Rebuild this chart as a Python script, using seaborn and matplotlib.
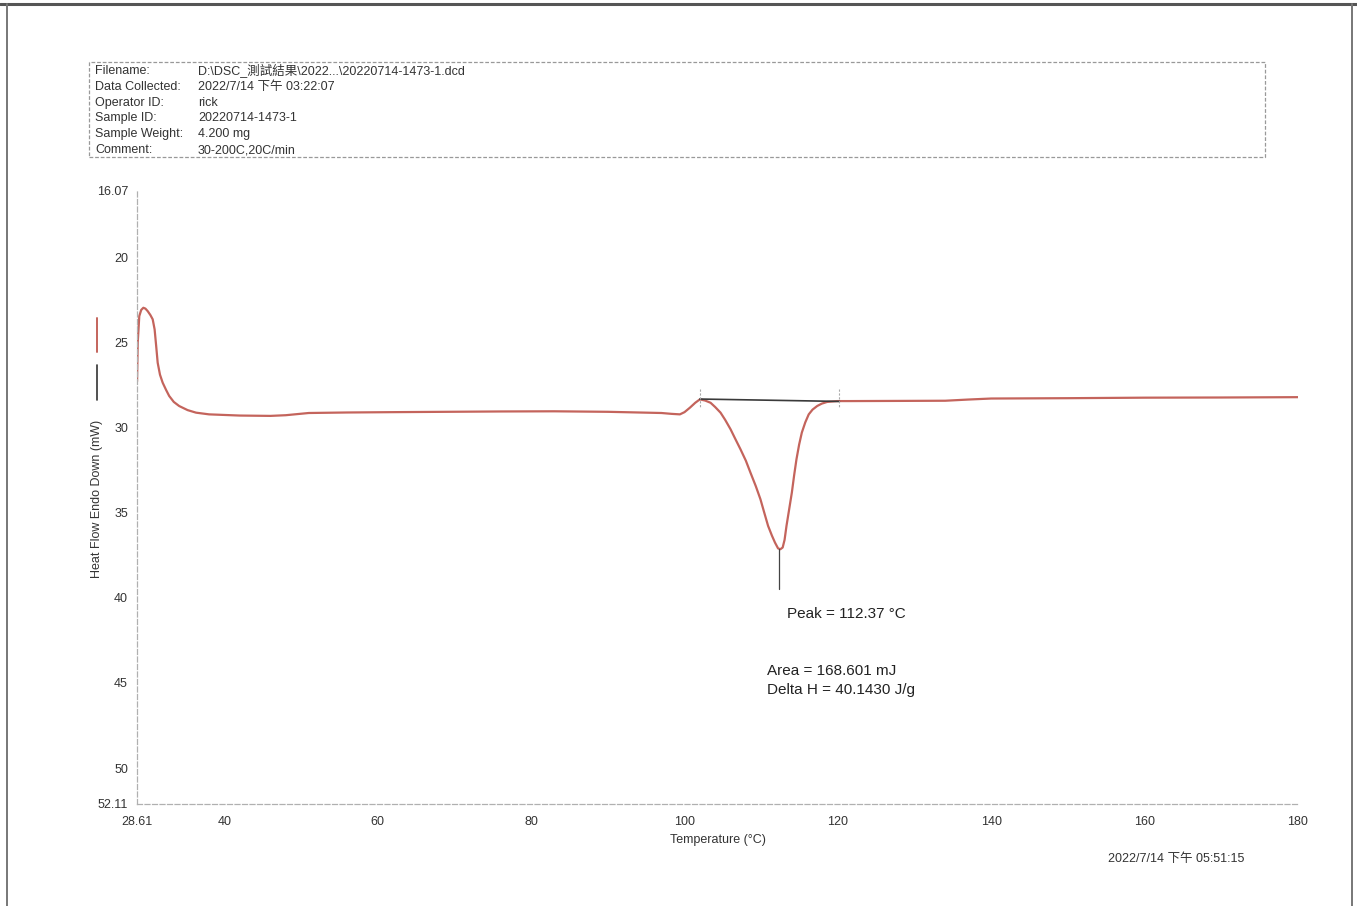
import matplotlib
matplotlib.use("Agg")
import matplotlib.pyplot as plt
import seaborn as sns
import pandas as pd
from matplotlib.lines import Line2D
from matplotlib.patches import Rectangle

# DSC heating curve
temperature = [28.61, 28.7, 28.9, 29.15, 29.43, 29.7, 30.0, 30.35, 30.65, 30.9, 31.1, 31.3,
               31.6, 31.95, 32.4, 32.8, 33.4, 34.1, 35.2, 36.3, 38.0, 42.0, 46.0, 48.0,
               51.0, 56.0, 62.0, 69.0, 76.0, 83.0, 90.0, 94.0, 97.0, 98.3, 99.4, 100.0,
               100.7, 101.4, 102.0, 102.7, 103.4, 104.0, 104.7, 105.3, 106.0, 106.6,
               107.3, 108.0, 108.6, 109.3, 109.9, 110.4, 110.9, 111.4, 111.8, 112.2,
               112.5, 112.8, 113.05, 113.3, 113.65, 114.0, 114.3, 114.6, 114.95, 115.3,
               115.75, 116.2, 116.7, 117.3, 117.9, 118.6, 119.9, 121.6, 128.0, 134.0,
               137.0, 140.0, 150.0, 160.0, 170.0, 180.0]
heat_flow = [27.3, 25.0, 23.46, 23.1, 22.97, 23.02, 23.17, 23.4, 23.65, 24.24, 25.2, 26.2,
             26.9, 27.37, 27.8, 28.15, 28.5, 28.74, 28.98, 29.13, 29.23, 29.3, 29.32, 29.28,
             29.15, 29.12, 29.1, 29.08, 29.06, 29.05, 29.08, 29.12, 29.15, 29.2, 29.23, 29.1,
             28.84, 28.55, 28.35, 28.42, 28.55, 28.8, 29.13, 29.55, 30.1, 30.65,
             31.28, 31.95, 32.65, 33.45, 34.21, 35.0, 35.78, 36.35, 36.76, 37.1,
             37.15, 37.05, 36.6, 35.78, 34.8, 33.82, 32.8, 31.87, 31.0, 30.3,
             29.7, 29.23, 28.95, 28.74, 28.6, 28.5, 28.45, 28.45, 28.44, 28.43,
             28.36, 28.3, 28.28, 28.25, 28.24, 28.22]

baseline_t = [102.0, 120.2]
baseline_hf = [28.33, 28.47]
peak_t = 112.37
peak_hf = 37.15

x_ticks = [28.61, 40, 60, 80, 100, 120, 140, 160, 180]
x_ticklabels = ["28.61", "40", "60", "80", "100", "120", "140", "160", "180"]
y_ticks = [16.07, 20, 25, 30, 35, 40, 45, 50, 52.11]
y_ticklabels = ["16.07", "20", "25", "30", "35", "40", "45", "50", "52.11"]

info_labels = ["Filename:", "Data Collected:", "Operator ID:", "Sample ID:",
               "Sample Weight:", "Comment:"]
info_values = ["D:\\DSC_測試結果\\2022...\\20220714-1473-1.dcd", "2022/7/14 下午 03:22:07",
               "rick", "20220714-1473-1", "4.200 mg", "30-200C,20C/min"]

sns.set_style("white")
plt.rcParams['font.family'] = ['Liberation Sans', 'Noto Sans CJK TC', 'DejaVu Sans']

curve_color = "#c4645c"
text_color = "#333333"

df = pd.DataFrame({"Temperature": temperature, "HeatFlow": heat_flow})

fig = plt.figure(figsize=(13.57, 9.06), dpi=100)
ax = fig.add_axes([0.101, 0.1126, 0.8555, 0.6774])

sns.lineplot(data=df, x="Temperature", y="HeatFlow", color=curve_color, linewidth=1.6,
             ax=ax, sort=False)
ax.plot(baseline_t, baseline_hf, color="#3a3a3a", linewidth=1.2)

# baseline limit marks and peak marker
for t in baseline_t:
    ax.plot([t, t], [27.75, 28.8], color="#aaaaaa", linewidth=0.8, linestyle=(0, (2, 1.5)))
ax.plot([peak_t, peak_t], [peak_hf, 39.5], color="#444444", linewidth=0.9)

ax.set_xlim(28.61, 180)
ax.set_ylim(52.11, 16.07)
ax.set_xticks(x_ticks)
ax.set_xticklabels(x_ticklabels)
ax.set_yticks(y_ticks)
ax.set_yticklabels(y_ticklabels)
ax.tick_params(axis="both", labelsize=9, colors="#aaaaaa", labelcolor=text_color,
               length=3, width=0.7)
ax.tick_params(axis="x", pad=6)

for side in ["top", "right"]:
    ax.spines[side].set_visible(False)
for side in ["left", "bottom"]:
    ax.spines[side].set_color("#b0b0b0")
    ax.spines[side].set_linewidth(0.9)
    ax.spines[side].set_linestyle((0, (4, 2)))

ax.set_xlabel("Temperature (°C)", fontsize=9, color=text_color, labelpad=4)
ax.set_ylabel("")

fig.text(0.0715, 0.449, "Heat Flow Endo Down (mW)", rotation=90, fontsize=9,
         color=text_color, ha="center", va="center")
fig.add_artist(Line2D([0.0715, 0.0715], [0.558, 0.597], color="#333333", linewidth=1.2))
fig.add_artist(Line2D([0.0715, 0.0715], [0.612, 0.649], color=curve_color, linewidth=1.4))

ax.text(113.4, 40.94, "Peak = 112.37 °C", fontsize=11, color="#222222", va="center")
ax.text(110.7, 44.3, "Area = 168.601 mJ", fontsize=11, color="#222222", va="center")
ax.text(110.7, 45.4, "Delta H = 40.1430 J/g", fontsize=11, color="#222222", va="center")

# sample information box
fig.add_artist(Rectangle((0.0656, 0.8267), 0.8664, 0.1049, transform=fig.transFigure,
                         fill=False, edgecolor="#999999", linewidth=0.9,
                         linestyle=(0, (3, 1.5))))
rows_y = [0.9216, 0.904, 0.8863, 0.8698, 0.852, 0.8344]
for y, lab, val in zip(rows_y, info_labels, info_values):
    fig.text(0.070, y, lab, fontsize=9, color=text_color, va="center")
    fig.text(0.1459, y, val, fontsize=9, color=text_color, va="center")

fig.text(0.8165, 0.052, "2022/7/14 下午 05:51:15", fontsize=9, color=text_color, va="center")

# page frame of the scanned sheet
fig.add_artist(Line2D([0.0, 1.0], [0.9955, 0.9955], color="#555555", linewidth=2.2))
fig.add_artist(Line2D([0.0052, 0.0052], [0.0, 0.996], color="#777777", linewidth=1.4))
fig.add_artist(Line2D([0.9963, 0.9963], [0.0, 0.996], color="#777777", linewidth=1.4))

fig.savefig("out.png", dpi=100)
